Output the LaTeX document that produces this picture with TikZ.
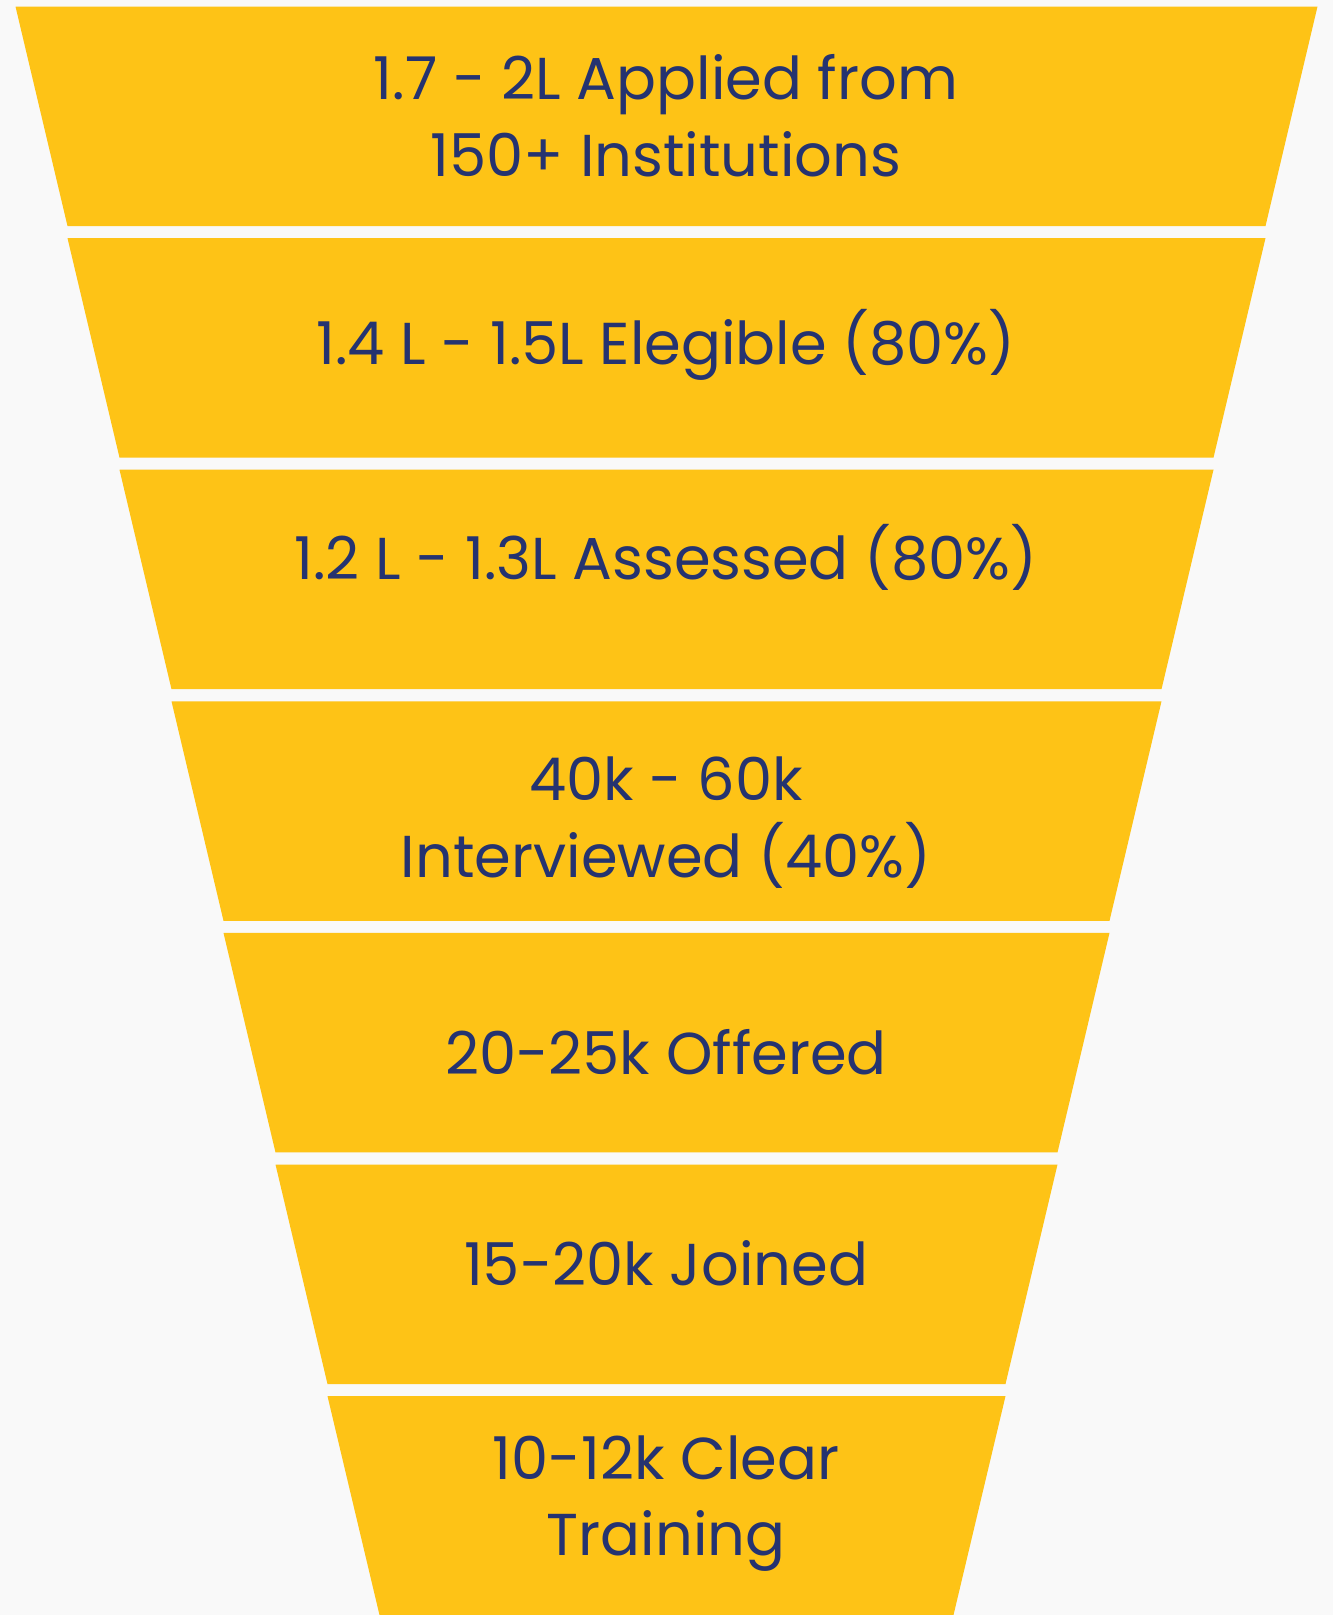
\documentclass[tikz,border=0pt]{standalone}
\usepackage{fontspec}
\setmainfont{Poppins}
\definecolor{funnelyellow}{HTML}{FEC316}
\definecolor{funneltext}{HTML}{253370}
\definecolor{pagegray}{HTML}{F9F9F9}

\begin{document}
\begin{tikzpicture}[x = .01cm, y = -.01cm, line join = round]
  \tikzset{
    band/.style = {fill = funnelyellow},
    stagetext/.style = {font = \fontsize{16.8}{20}\selectfont,
      text = funneltext, anchor = base, inner sep = 0}
  }
  \fill[pagegray] (0, 0) rectangle (1333, 1615);
  \useasboundingbox (0, 0) rectangle (1333, 1615);

  \def\cx{666.5}
  \foreach \i in {0, ..., 6} {
    \pgfmathsetmacro{\yt}{6.5 + 231.6*\i}
    \pgfmathsetmacro{\yb}{min(\yt + 219.5, 1615)}
    \pgfmathsetmacro{\wt}{651 - 52*\i}
    \pgfmathsetmacro{\wb}{\wt - 52}
    \fill[band] (\cx - \wt, \yt) -- (\cx + \wt, \yt) -- (\cx + \wb, \yb)
    -- (\cx - \wb, \yb) -- cycle;
  }

  \node[stagetext] (applied) at (666, 100) {1.7 - 2L Applied from};
  \node[stagetext] (institutions) at (666, 176) {150+ Institutions};
  \node[stagetext] (elegible) at (666, 364) {1.4 L - 1.5L Elegible (80\%)};
  \node[stagetext] (assessed) at (666, 579) {1.2 L - 1.3L Assessed (80\%)};
  \node[stagetext] (range) at (666, 800.7) {40k - 60k};
  \node[stagetext] (interviewed) at (666, 877.3) {Interviewed (40\%)};
  \node[stagetext] (offered) at (666, 1074) {20-25k Offered};
  \node[stagetext] (joined) at (666, 1285.7) {15-20k Joined};
  \node[stagetext] (clear) at (666, 1479) {10-12k Clear};
  \node[stagetext] (training) at (666, 1555) {Training};
\end{tikzpicture}
\end{document}
